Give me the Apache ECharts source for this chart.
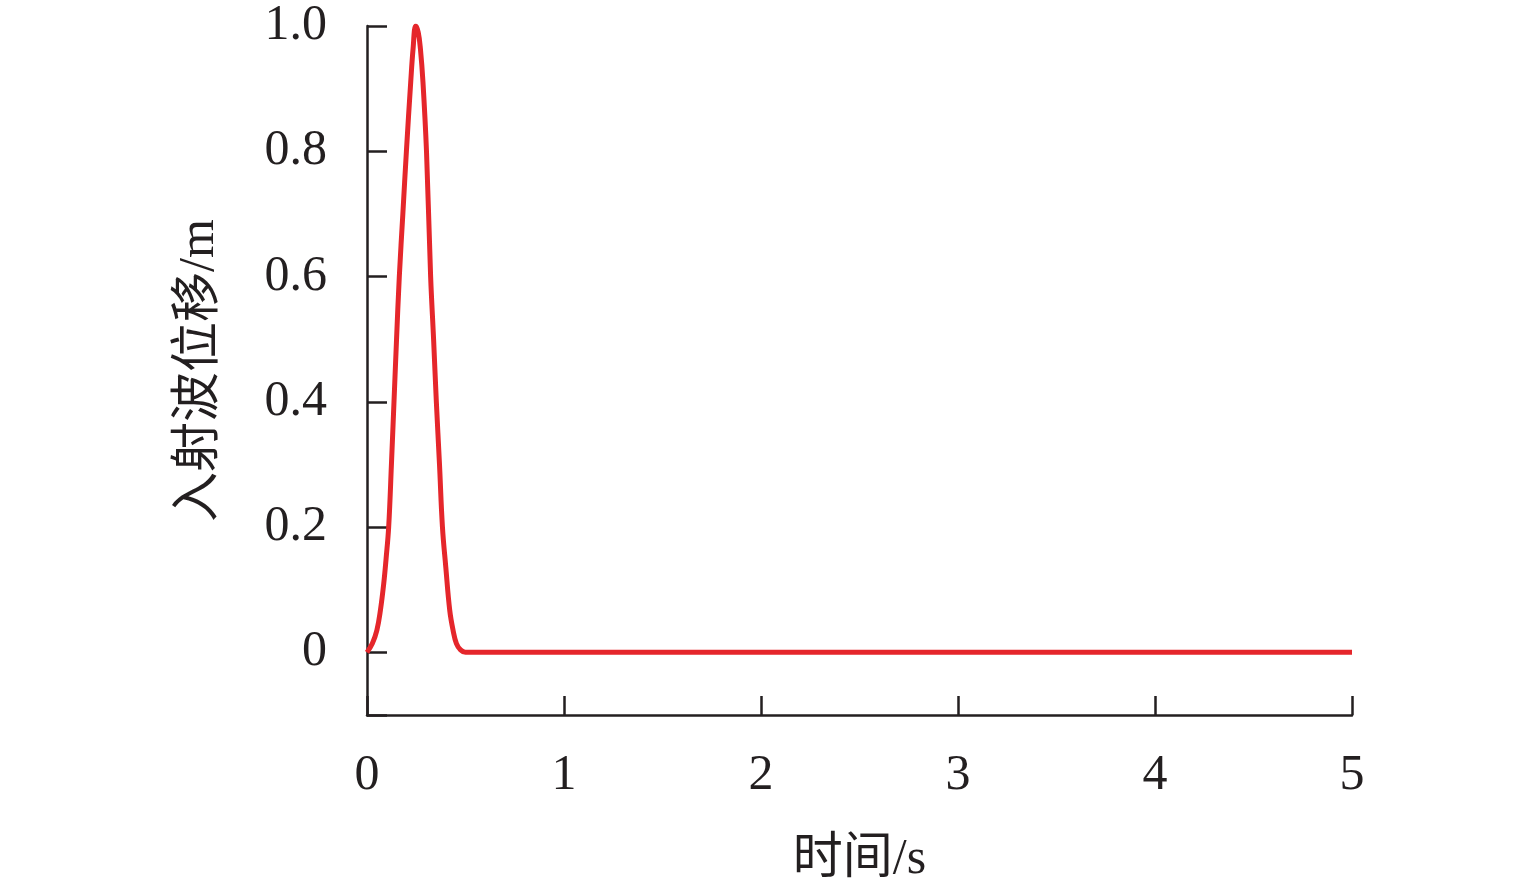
<!DOCTYPE html>
<html>
<head>
<meta charset="utf-8">
<script src="https://cdn.jsdelivr.net/npm/echarts@6/dist/echarts.min.js"></script>
<style>
  html, body { margin: 0; padding: 0; background: #fff; }
  #chart { width: 1535px; height: 895px; }
</style>
</head>
<body>
<div id="chart"></div>
<script>
// 时间 (s) 与 入射波位移 (m)
var timeS = [0, 0.027, 0.05, 0.068, 0.085, 0.097, 0.11, 0.124, 0.137, 0.15, 0.164, 0.182, 0.2, 0.222, 0.234, 0.247,
  0.26, 0.271, 0.284, 0.302, 0.323, 0.338, 0.352, 0.368, 0.383, 0.4, 0.42, 0.437, 0.454, 0.475, 0.5, 0.55, 1, 2, 3, 4, 5];
var dispM = [0, 0.014, 0.035, 0.067, 0.11, 0.15, 0.2, 0.3, 0.4, 0.5, 0.6, 0.7, 0.8, 0.911, 0.964, 1.0,
  0.99, 0.964, 0.911, 0.8, 0.6, 0.5, 0.4, 0.3, 0.2, 0.136, 0.067, 0.035, 0.014, 0.004, 0, 0, 0, 0, 0, 0, 0];
var xTicks = [0, 1, 2, 3, 4, 5];

var lineData = timeS.map(function (t, i) { return [t, dispM[i]]; });

var chart = echarts.init(document.getElementById('chart'));
var serif = '"Liberation Serif", "Noto Sans CJK SC", serif';

var option = {
  animation: false,
  backgroundColor: '#ffffff',
  grid: { left: 367, right: 183, top: 26, bottom: 180, containLabel: false },
  xAxis: {
    type: 'value',
    min: xTicks[0],
    max: xTicks[xTicks.length - 1],
    interval: 1,
    name: '时间/s',
    nameLocation: 'middle',
    nameGap: 120,
    nameTextStyle: { fontFamily: serif, fontSize: 50, color: '#231f20' },
    axisLine: { onZero: false, lineStyle: { color: '#231f20', width: 2.5 } },
    axisTick: { inside: true, length: 19, lineStyle: { color: '#231f20', width: 2.5 } },
    axisLabel: { margin: 36, fontFamily: serif, fontSize: 50, color: '#231f20' },
    splitLine: { show: false }
  },
  yAxis: {
    type: 'value',
    min: -0.1,
    max: 1.0,
    splitNumber: 5,
    name: '入射波位移/m',
    nameLocation: 'middle',
    nameGap: 142,
    nameTextStyle: { fontFamily: serif, fontSize: 50, color: '#231f20' },
    axisLine: { show: true, lineStyle: { color: '#231f20', width: 2.5 } },
    axisTick: { inside: true, length: 20, lineStyle: { color: '#231f20', width: 2.5 } },
    axisLabel: {
      margin: 40, fontFamily: serif, fontSize: 50, color: '#231f20',
      formatter: function (v) {
        if (v < 0) return '';
        return v === 0 ? '0' : v.toFixed(1);
      }
    },
    splitLine: { show: false }
  },
  series: [{
    type: 'line',
    data: lineData,
    smooth: 0.4,
    showSymbol: false,
    lineStyle: { color: '#e5262b', width: 5 }
  }]
};

chart.setOption(option);
</script>
</body>
</html>
